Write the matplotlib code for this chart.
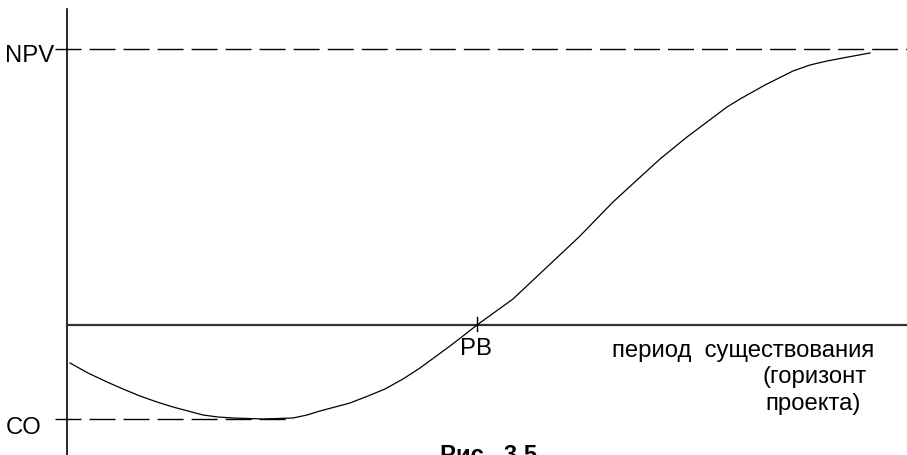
import matplotlib.pyplot as plt
import numpy as np

plt.rcParams['font.family'] = ['Liberation Sans', 'DejaVu Sans']

# curve: cumulative NPV over the project life (x = time, y = value)
t = [3, 21, 40, 56, 73, 90, 106, 121, 136, 151, 166, 196, 226, 240, 253,
     268, 283, 301, 318, 336, 353, 368, 383, 396, 410,
     446, 480, 513, 546, 570, 593, 620, 640, 660, 673, 698, 726, 743, 760,
     781, 803]
npv_cum = [-38, -48, -57, -64, -71, -77, -82, -86, -90, -92, -93, -94, -93,
           -90, -86, -82, -78, -71, -64, -54, -43, -32, -21, -11, 0,
           26, 58, 89, 123, 145, 166, 188, 203, 218, 226, 240, 254, 260, 264,
           268, 272]

NPV = 276
CO = -94
PB = 410
x_end = 840
y_top = 316
y_bottom = -130

fig = plt.figure(figsize=(9.07, 4.56), dpi=100)
ax = fig.add_axes([0, 0, 1, 1])
ax.set_xlim(-67, 840)
ax.set_ylim(-130, 326)
ax.axis('off')

# axes
ax.plot([0, 0], [y_bottom, y_top], color='black', lw=1.2)
ax.plot([0, x_end], [0, 0], color='#333333', lw=1.6)
ax.plot([PB, PB], [-6, 8], color='black', lw=1)

# dashed levels
ax.plot([-12, x_end], [NPV, NPV], color='black', lw=1, dashes=(18.7, 5.8))
ax.plot([-12, 226], [CO, CO], color='black', lw=1, dashes=(18.7, 5.8))

# the curve
ax.plot(t, npv_cum, color='black', lw=0.9)

fs = 17.2
ax.text(-62, 264, 'NPV', fontsize=fs, va='baseline', ha='left')
ax.text(-61, -108, 'CO', fontsize=fs, va='baseline', ha='left')
ax.text(393, -29, 'PB', fontsize=fs, va='baseline', ha='left')
ax.text(545, -31, 'период  существования', fontsize=fs, va='baseline', ha='left')
ax.text(695, -57, '(горизонт', fontsize=fs, va='baseline', ha='left')
ax.text(698, -84, 'проекта)', fontsize=fs, va='baseline', ha='left')
ax.text(373, -136, 'Рис.  3.5', fontsize=fs, fontweight='bold', va='baseline',
        ha='left', clip_on=False)

fig.savefig('out.png', dpi=100)
